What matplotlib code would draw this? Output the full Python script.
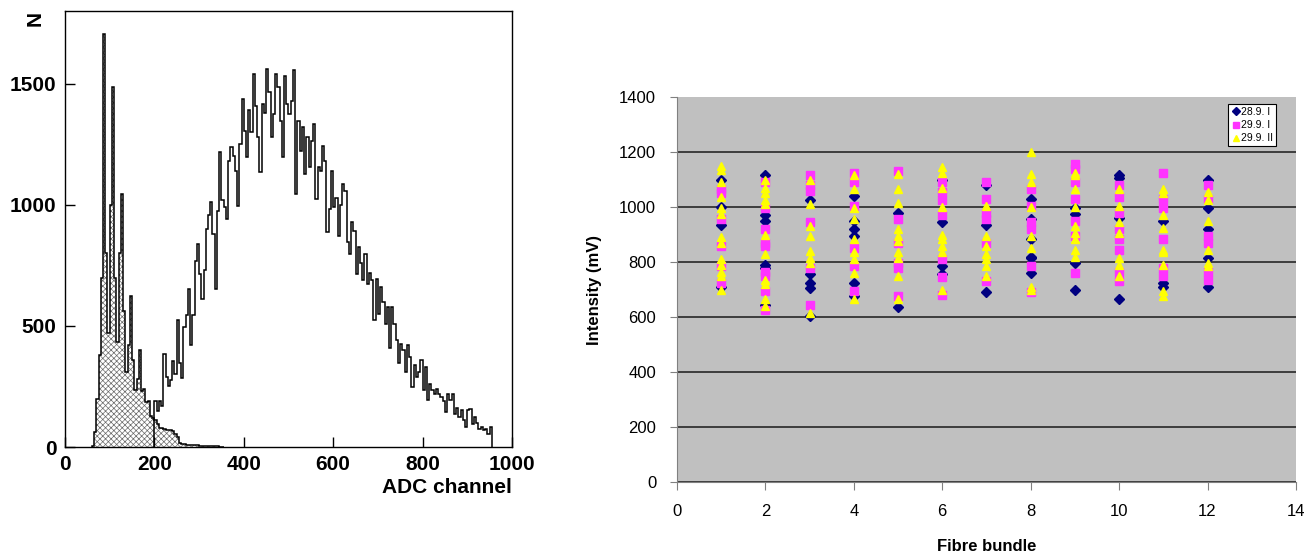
import matplotlib.pyplot as plt
import numpy as np

plt.rcParams['font.family'] = ['Liberation Sans', 'DejaVu Sans']
plt.rcParams['hatch.linewidth'] = 0.5

# --- Panel izquierdo: espectro ADC ---
ped_start = 60
bin_w = 5
ped_counts = [5, 60, 200, 380, 700, 1707, 800, 470, 1000, 1485,
              700, 434, 800, 1046, 560, 310, 420, 622, 360, 235,
              280, 400, 230, 240, 185, 190, 130, 120, 110, 95,
              80, 78, 75, 72, 70, 70, 65, 55, 40, 15,
              12, 12, 10, 10, 10, 8, 8, 7, 6, 6,
              5, 5, 4, 4, 3, 3, 3, 2, 2]

main_start = 200
main_counts = [190, 150, 190, 170, 386, 290, 250, 275, 355, 300,
               525, 345, 283, 496, 544, 653, 420, 545, 770, 840,
               716, 613, 730, 900, 960, 1011, 880, 653, 976, 1217,
               1018, 990, 942, 1183, 1238, 1200, 1141, 997, 1252, 1438,
               1307, 1197, 1390, 1300, 1541, 1410, 1279, 1134, 1417, 1380,
               1562, 1466, 1279, 1376, 1541, 1486, 1348, 1197, 1534, 1417,
               1376, 1430, 1555, 1045, 1348, 1224, 1320, 1128, 1279, 1155,
               1265, 1333, 1025, 1155, 1141, 1245, 1180, 887, 983, 1141,
               990, 1030, 873, 1000, 1086, 1059, 846, 798, 929, 894,
               716, 825, 760, 688, 798, 675, 720, 688, 524, 695,
               551, 661, 600, 510, 579, 407, 579, 510, 441, 345,
               427, 400, 310, 420, 372, 248, 338, 290, 310, 359,
               235, 331, 194, 260, 235, 221, 240, 221, 207, 190,
               145, 221, 194, 221, 138, 160, 124, 152, 111, 83,
               152, 159, 97, 124, 100, 76, 83, 69, 76, 55, 83]

# --- Panel derecho: intensidad por haz de fibras ---
bundles = list(range(1, 13))
series_names = ['28.9. I', '29.9. I', '29.9. II']

s289_I = [[1100, 1000, 935, 710],
          [1115, 970, 950, 790, 780, 645],
          [1025, 755, 725, 705, 605],
          [1040, 950, 920, 895, 725, 675],
          [980, 635],
          [1100, 945, 785, 755],
          [1080, 935, 690],
          [1030, 955, 885, 820, 815, 760],
          [995, 975, 795, 700],
          [1115, 1105, 960, 665],
          [950, 725, 710],
          [1100, 995, 920, 815, 710]]

s299_I = [[1065, 1050, 955, 860, 785, 725],
          [1090, 995, 920, 870, 860, 765, 750, 695, 625],
          [1115, 1080, 1060, 945, 780, 645],
          [1125, 1090, 1005, 850, 785, 695],
          [1130, 955, 870, 795, 780, 675],
          [1090, 1055, 1025, 970, 810, 745, 680],
          [1090, 1030, 980, 955, 870, 730],
          [1065, 1005, 945, 920, 785, 690],
          [1155, 1140, 1090, 1030, 950, 895, 760],
          [1080, 1035, 980, 920, 885, 845, 765, 730],
          [1125, 1030, 995, 885, 780, 750],
          [1080, 1030, 895, 870, 765, 735]]

s299_II = [[1150, 1135, 1090, 1035, 995, 975, 890, 870, 810, 790, 765, 750, 700],
           [1100, 1070, 1050, 1025, 1010, 900, 830, 735, 720, 665, 640],
           [1100, 1010, 930, 895, 840, 815, 795, 615],
           [1115, 1065, 995, 955, 885, 835, 810, 760, 665],
           [1120, 1065, 1015, 920, 895, 875, 835, 815, 750, 665],
           [1145, 1125, 1070, 1000, 900, 885, 860, 835, 700],
           [1005, 895, 860, 830, 810, 785, 750],
           [1200, 1120, 1090, 1000, 895, 850, 710, 700],
           [1125, 1115, 1065, 1000, 930, 905, 885, 845, 820],
           [1065, 1005, 945, 905, 815, 790, 750],
           [1065, 1050, 970, 925, 845, 835, 790, 695, 675],
           [1055, 1025, 950, 845, 795, 785]]


def aplanar(grupos):
    """Convierte la lista por haz en arrays x, y"""
    xs, ys = [], []
    for b, vals in zip(bundles, grupos):
        xs += [b] * len(vals)
        ys += vals
    return np.array(xs), np.array(ys)


fig = plt.figure(figsize=(13.13, 5.56), dpi=100)

# ---------------- izquierda ----------------
ax1 = fig.add_axes([0.0495, 0.196, 0.3404, 0.784])
ped_edges = ped_start + bin_w * np.arange(len(ped_counts) + 1)
main_edges = main_start + bin_w * np.arange(len(main_counts) + 1)

ax1.stairs(ped_counts, ped_edges, fill=True, facecolor='white',
           edgecolor='#6a6a6a', hatch='xxxxxx', linewidth=0, baseline=0)
ax1.stairs(ped_counts, ped_edges, color='black', linewidth=1.1, baseline=0)
ax1.stairs(main_counts, main_edges, color='black', linewidth=1.1, baseline=0)

ax1.set_xlim(0, 1000)
ax1.set_ylim(0, 1800)
ax1.set_xticks([0, 200, 400, 600, 800, 1000])
ax1.set_yticks([0, 500, 1000, 1500])
ax1.tick_params(direction='in', length=7, width=1, labelsize=15, pad=6)
for lab in ax1.get_xticklabels() + ax1.get_yticklabels():
    lab.set_fontweight('bold')
for sp in ax1.spines.values():
    sp.set_linewidth(1.0)
ax1.text(1.0, -0.092, 'ADC channel', transform=ax1.transAxes, ha='right',
         va='center', fontsize=15, fontweight='bold')
ax1.text(-0.045, 1.0, 'N', transform=ax1.transAxes, ha='right', va='top',
         rotation=90, fontsize=15, fontweight='bold')

# ---------------- derecha ----------------
ax2 = fig.add_axes([0.5156, 0.1331, 0.4714, 0.6924])
ax2.set_facecolor('#C0C0C0')

x1, y1 = aplanar(s289_I)
x2, y2 = aplanar(s299_I)
x3, y3 = aplanar(s299_II)
ax2.plot(x1, y1, 'D', color='#000080', markersize=5, linestyle='none',
         label=series_names[0])
ax2.plot(x2, y2, 's', color='#FF33FF', markersize=5.5, linestyle='none',
         label=series_names[1])
ax2.plot(x3, y3, '^', color='#FFFF00', markersize=6, linestyle='none',
         label=series_names[2])

ax2.set_xlim(0, 14)
ax2.set_ylim(0, 1400)
ax2.set_xticks(range(0, 15, 2))
ax2.set_yticks(range(0, 1401, 200))
ax2.yaxis.grid(True, color='#333333', linewidth=1.3)
ax2.get_ygridlines()[-1].set_visible(False)
ax2.set_axisbelow(True)
ax2.spines['top'].set_visible(False)
ax2.spines['right'].set_visible(False)
ax2.spines['left'].set_color('#808080')
ax2.spines['bottom'].set_color('#808080')
ax2.tick_params(axis='x', direction='out', length=6, color='#808080',
                labelsize=12, pad=10)
ax2.tick_params(axis='y', direction='out', length=5, color='#808080',
                labelsize=12, pad=10)
ax2.set_xlabel('Fibre bundle', fontsize=12, fontweight='bold', labelpad=14)
ax2.set_ylabel('Intensity (mV)', fontsize=12, fontweight='bold', labelpad=12)

leg = ax2.legend(loc='upper right', bbox_to_anchor=(0.968, 0.982),
                 fontsize=7.5, frameon=True, fancybox=False, framealpha=1,
                 edgecolor='black', borderpad=0.3, handletextpad=0.1,
                 handlelength=0.8, labelspacing=0.3, markerscale=0.75,
                 borderaxespad=0)
leg.get_frame().set_linewidth(0.8)

fig.savefig('out.png', dpi=100)
